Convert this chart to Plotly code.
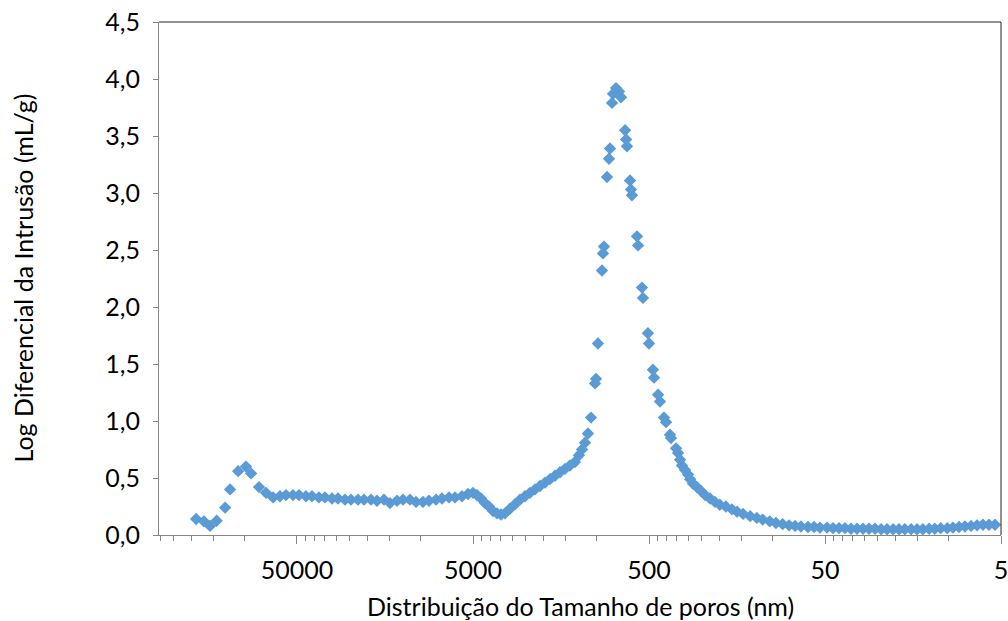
import plotly.graph_objects as go

# Pore diameter (nm) and log differential intrusion (mL/g)
pore_macro = [187000, 169000, 156000, 143000, 128000, 120000, 108000, 97500, 91200, 82200, 75000, 68400]
val_macro = [0.14, 0.12, 0.08, 0.125, 0.24, 0.40, 0.56, 0.60, 0.54, 0.42, 0.37, 0.33]

pore_plateau = [62500, 57750, 52700, 48700, 44450, 41100, 37500, 34660, 31630, 29240, 26690, 24680,
                22510, 20810, 18990, 17560, 16020, 14810, 13510, 12500, 11400, 10540, 9620, 8890,
                8110, 7500, 6845, 6330, 5775, 5340, 5000]
val_plateau = [0.34, 0.35, 0.35, 0.35, 0.34, 0.34, 0.33, 0.33, 0.32, 0.32, 0.31, 0.31,
               0.31, 0.31, 0.31, 0.30, 0.31, 0.28, 0.30, 0.31, 0.31, 0.29, 0.29, 0.30,
               0.31, 0.32, 0.33, 0.33, 0.34, 0.36, 0.37]

pore_dip = [4745, 4503, 4273, 4056, 3849, 3652, 3466]
val_dip = [0.35, 0.32, 0.28, 0.25, 0.21, 0.19, 0.18]

pore_rise = [3290, 3082, 2886, 2704, 2532, 2372, 2222, 2081, 1949, 1826, 1711, 1602, 1501, 1406,
             1317, 1250, 1201, 1155, 1111, 1068]
val_rise = [0.19, 0.23, 0.27, 0.31, 0.34, 0.37, 0.40, 0.43, 0.46, 0.49, 0.52, 0.55, 0.58, 0.61,
            0.64, 0.70, 0.75, 0.81, 0.89, 1.03]

pore_peak = [1013, 1000, 975, 925, 913, 901, 866, 844, 833, 811,
             801, 770, 740, 721, 684, 675, 667, 641, 633, 625,
             585, 577, 548, 541, 507, 500, 475, 468, 444, 433,
             411, 400, 380, 375, 351, 342, 333, 325, 312, 300,
             292, 281, 267, 253, 240, 225, 211, 198, 183, 169,
             158, 146, 133, 122, 113, 103, 95, 87, 80, 74,
             68.5, 62.5, 57.7, 53.4, 48.7, 45.0, 41.6, 38.5, 35.6, 32.9,
             30.4, 28.1, 26.0, 24.0, 22.2, 20.5, 19.0, 17.6, 16.2, 15.0,
             13.9, 12.8, 11.9, 11.0, 10.1, 9.37, 8.66, 8.01, 7.40, 6.84,
             6.33, 5.85, 5.41]
val_peak = [1.33, 1.37, 1.68, 2.32, 2.47, 2.53, 3.14, 3.30, 3.39, 3.79,
            3.87, 3.92, 3.89, 3.84, 3.55, 3.47, 3.41, 3.11, 3.03, 2.98,
            2.62, 2.54, 2.17, 2.08, 1.77, 1.68, 1.45, 1.38, 1.23, 1.17,
            1.03, 0.99, 0.88, 0.85, 0.76, 0.72, 0.66, 0.61, 0.57, 0.53,
            0.49, 0.45, 0.42, 0.385, 0.35, 0.32, 0.29, 0.265, 0.25, 0.225,
            0.205, 0.185, 0.165, 0.15, 0.135, 0.12, 0.105, 0.095, 0.085, 0.08,
            0.075, 0.07, 0.07, 0.065, 0.065, 0.06, 0.06, 0.06, 0.055, 0.055,
            0.055, 0.055, 0.055, 0.05, 0.05, 0.05, 0.05, 0.05, 0.05, 0.05,
            0.05, 0.055, 0.055, 0.06, 0.06, 0.065, 0.07, 0.075, 0.08, 0.085,
            0.09, 0.09, 0.09]

x_ticks = [50000, 5000, 500, 50, 5]
x_ticktext = ["50000", "5000", "500", "50", "5"]
y_ticks = [0.0, 0.5, 1.0, 1.5, 2.0, 2.5, 3.0, 3.5, 4.0, 4.5]

x_title = "Distribuição do Tamanho de poros (nm)"
y_title = "Log Diferencial da Intrusão (mL/g)"

pore = pore_macro + pore_plateau + pore_dip + pore_rise + pore_peak
vals = val_macro + val_plateau + val_dip + val_rise + val_peak

minor_vals = [5 * k * 10 ** n for n in range(0, 5) for k in range(2, 10)]

FONT = "Lato"
FS = 25
fig = go.Figure()
fig.add_trace(go.Scatter(
    x=pore, y=vals, mode="markers",
    marker=dict(symbol="diamond", size=9.5, color="#5B9BD5", line=dict(width=0)),
    showlegend=False, hoverinfo="x+y", cliponaxis=False,
))

fig.update_layout(
    width=1008, height=621,
    margin=dict(l=159, r=7, t=22, b=86),
    paper_bgcolor="white", plot_bgcolor="white",
    separators=",.",
    font=dict(family=FONT, size=FS, color="black"),
    xaxis=dict(
        type="log", range=[5.483, 0.699], automargin=False,
        tickmode="array", tickvals=x_ticks, ticktext=x_ticktext,
        ticks="outside", ticklen=8, tickcolor="#868686", tickwidth=1,
        showline=True, linecolor="#868686", linewidth=1,
        showgrid=False, zeroline=False,
        minor=dict(tickmode="array", tickvals=minor_vals, ticks="outside",
                   ticklen=5, tickcolor="#868686", tickwidth=1, showgrid=False),
        tickfont=dict(family=FONT, size=FS, color="black"),
        ticklabelstandoff=5,
        ticklabeloverflow="allow",
    ),
    yaxis=dict(
        range=[0, 4.5], tickmode="array", tickvals=y_ticks, tickformat=".1f",
        automargin=False,
        ticks="outside", ticklen=5, tickcolor="#868686", tickwidth=1,
        showline=True, linecolor="#868686", linewidth=1,
        showgrid=False, zeroline=False,
        tickfont=dict(family=FONT, size=FS, color="black"),
        ticklabelstandoff=8,
    ),
    shapes=[
        dict(type="line", xref="paper", yref="paper", x0=0, x1=1, y0=1, y1=1,
             line=dict(color="#222222", width=1)),
        dict(type="line", xref="paper", yref="paper", x0=1, x1=1, y0=0, y1=1,
             line=dict(color="#222222", width=1)),
    ],
    annotations=[
        dict(text=x_title, xref="paper", yref="paper", x=0.5, y=0, yshift=-71,
             xanchor="center", yanchor="middle", showarrow=False, borderpad=0,
             font=dict(family=FONT, size=FS, color="black")),
        dict(text=y_title, xref="paper", yref="paper", x=0, xshift=-137, y=0.5,
             xanchor="center", yanchor="middle", showarrow=False, textangle=-90,
             font=dict(family=FONT, size=FS, color="black")),
    ],
)

fig.write_html("out.html")
